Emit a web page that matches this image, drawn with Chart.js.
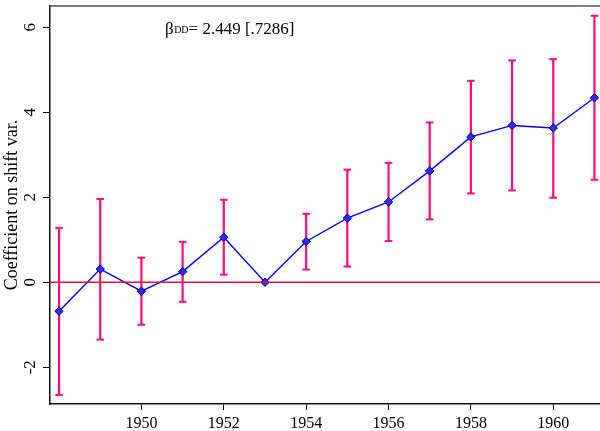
<!DOCTYPE html>
<html><head><meta charset="utf-8">
<script src="https://cdn.jsdelivr.net/npm/chart.js@4/dist/chart.umd.min.js"></script>
<style>html,body{margin:0;padding:0;background:#fff}#wrap{width:600px;height:431px;position:relative}</style>
</head><body><div id="wrap"><canvas id="c"></canvas></div>
<script>
const years  = [1948, 1949, 1950, 1951, 1952, 1953, 1954, 1955, 1956, 1957, 1958, 1959, 1960, 1961];
const coef   = [-0.68, 0.31, -0.21, 0.25, 1.06, 0.00, 0.96, 1.51, 1.89, 2.62, 3.42, 3.69, 3.63, 4.34];
const ciLow  = [-2.65, -1.35, -1.00, -0.46, 0.18, 0.00, 0.30, 0.37, 0.97, 1.48, 2.09, 2.16, 1.99, 2.41];
const ciHigh = [1.28, 1.96, 0.58, 0.95, 1.94, 0.00, 1.61, 2.65, 2.81, 3.76, 4.74, 5.22, 5.25, 6.27];
const xTicks = [1950, 1952, 1954, 1956, 1958, 1960];
const yTicks = [-2, 0, 2, 4, 6];
const yTitle = 'Coefficient on shift var.';
const noteMain = 'β';
const noteSup = 'DD';
const noteRest = '= 2.449 [.7286]';

const SERIF = "'Liberation Serif', 'Times New Roman', serif";

const linePts = years.map((x, i) => ({x, y: coef[i]}));
const barPts = [];
years.forEach((x, i) => { barPts.push({x, y: ciLow[i]}, {x, y: ciHigh[i]}, {x, y: null}); });
const capPts = [];
years.forEach((x, i) => { capPts.push({x, y: ciLow[i]}, {x, y: ciHigh[i]}); });

const decor = {
  id: 'decor',
  afterDatasetsDraw(chart) {
    const {ctx, chartArea: a, scales: {y}} = chart;
    ctx.save();
    const y0 = y.getPixelForValue(0);
    ctx.strokeStyle = '#DC143C';
    ctx.lineWidth = 1.3;
    ctx.beginPath(); ctx.moveTo(a.left, y0); ctx.lineTo(a.right, y0); ctx.stroke();
    ctx.strokeStyle = '#555';
    ctx.lineWidth = 1.5;
    ctx.beginPath(); ctx.moveTo(a.left, a.top); ctx.lineTo(a.right, a.top); ctx.stroke();
    ctx.fillStyle = '#000';
    ctx.textBaseline = 'alphabetic';
    ctx.textAlign = 'left';
    ctx.font = '17px ' + SERIF;
    let x = 165, base = 33.5;
    ctx.fillText(noteMain, x, base);
    x += ctx.measureText(noteMain).width + 0.5;
    ctx.font = '10px ' + SERIF;
    ctx.fillText(noteSup, x, base - 1);
    x += ctx.measureText(noteSup).width;
    ctx.font = '17px ' + SERIF;
    ctx.fillText(noteRest, x, base);
    ctx.restore();
  }
};

new Chart(document.getElementById('c'), {
  type: 'scatter',
  data: {
    datasets: [
      {
        type: 'line', data: linePts,
        borderColor: '#0000FF', borderWidth: 1.4, tension: 0,
        pointStyle: 'rectRot', pointRadius: 4.2,
        pointBackgroundColor: '#2a2aff', pointBorderColor: '#00009a', pointBorderWidth: 1,
        order: 0
      },
      {
        type: 'line', data: barPts, spanGaps: false,
        borderColor: '#FF0A7F', borderWidth: 2.2, pointRadius: 0,
        order: 2
      },
      {
        type: 'scatter', data: capPts,
        pointStyle: 'line', pointRadius: 3.8,
        borderColor: '#FF0A7F', pointBorderColor: '#FF0A7F', pointBorderWidth: 2,
        order: 1
      }
    ]
  },
  options: {
    responsive: true, maintainAspectRatio: false, animation: false,
    layout: {autoPadding: false, padding: {top: 6, right: 0, bottom: 0, left: 0}},
    plugins: {legend: {display: false}, tooltip: {enabled: false}},
    scales: {
      x: {
        type: 'linear', min: 1947.78, max: 1961.135, offset: false,
        afterBuildTicks: s => { s.ticks = xTicks.map(v => ({value: v})); },
        afterFit: s => { s.height = 27; s.paddingLeft = 0; s.paddingRight = 0; },
        grid: {display: true, drawOnChartArea: false, drawTicks: true, tickLength: 6, color: '#000', offset: false},
        border: {display: true, color: '#111', width: 1.5},
        ticks: {color: '#000', font: {family: SERIF, size: 16}, padding: 4, maxRotation: 0, autoSkip: false, callback: v => String(v)}
      },
      y: {
        type: 'linear', min: -2.864, max: 6.50,
        afterBuildTicks: s => { s.ticks = yTicks.map(v => ({value: v})); },
        afterFit: s => { s.width = 50; s.paddingTop = 0; s.paddingBottom = 0; },
        grid: {display: true, drawOnChartArea: false, drawTicks: true, tickLength: 7, color: '#000'},
        border: {display: true, color: '#111', width: 1.5},
        ticks: {color: '#000', font: {family: SERIF, size: 17}, padding: 5, minRotation: 90, maxRotation: 90, crossAlign: 'center', autoSkip: false, callback: v => String(v)},
        title: {display: true, text: yTitle, color: '#000', font: {family: SERIF, size: 18}, padding: {top: 1, bottom: 0}}
      }
    }
  },
  plugins: [decor]
});
</script>
</body></html>
